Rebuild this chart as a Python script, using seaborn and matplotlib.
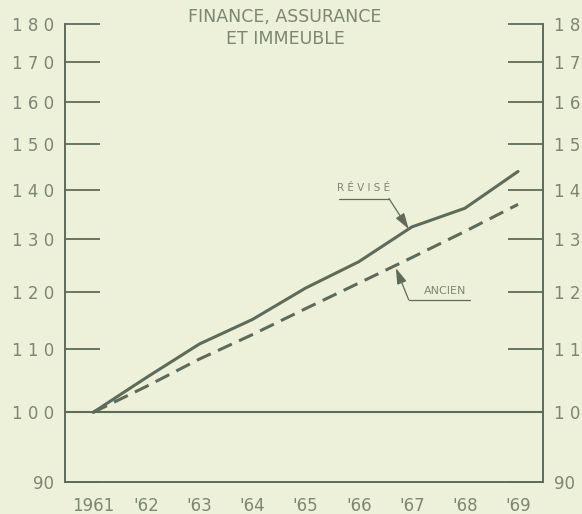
import numpy as np
import pandas as pd
import seaborn as sns
import matplotlib
matplotlib.use("Agg")
import matplotlib.pyplot as plt
from matplotlib.ticker import FixedLocator, NullFormatter, NullLocator

years = [1961, 1962, 1963, 1964, 1965, 1966, 1967, 1968, 1969]
revise = [100, 105.4, 110.9, 115.1, 120.7, 125.6, 132.4, 136.2, 144.0]
ancien = [100, 104.0, 108.4, 112.5, 117.0, 121.6, 126.4, 131.5, 137.0]
year_labels = ["1961", "'62", "'63", "'64", "'65", "'66", "'67", "'68", "'69"]
y_ticks = [90, 100, 110, 120, 130, 140, 150, 160, 170, 180]
y_labels = ["90", "1 0 0", "1 1 0", "1 2 0", "1 3 0", "1 4 0", "1 5 0", "1 6 0", "1 7 0", "1 8 0"]
title = "FINANCE, ASSURANCE\nET IMMEUBLE"

BG = "#EDF1DA"
INK = "#5F6B58"
TXT = "#7C8672"

sns.set_theme(style="white")
plt.rcParams['font.family'] = ['DejaVu Sans']

df = pd.DataFrame({
    "year": years * 2,
    "value": revise + ancien,
    "serie": ["RÉVISÉ"] * len(years) + ["ANCIEN"] * len(years),
})

fig = plt.figure(figsize=(5.82, 5.14), dpi=100, facecolor=BG)
ax = fig.add_axes([65 / 582, 1 - 482 / 514, (543 - 65) / 582, (482 - 24) / 514])
ax.set_facecolor(BG)

sns.lineplot(data=df, x="year", y="value", style="serie", hue="serie",
             palette={"RÉVISÉ": INK, "ANCIEN": INK},
             dashes={"RÉVISÉ": "", "ANCIEN": (5, 2.6)},
             linewidth=2.2, legend=False, ax=ax)

ax.set_yscale("log")
ax.set_ylim(90, 180)
ax.set_xlim(1960.47, 1969.47)
ax.axhline(100, color=INK, lw=1.5, zorder=1)

for s in ["left", "right", "bottom"]:
    ax.spines[s].set_color(INK)
    ax.spines[s].set_linewidth(1.4)
ax.spines["top"].set_visible(False)

ax.yaxis.set_major_locator(FixedLocator(y_ticks))
ax.yaxis.set_minor_locator(NullLocator())
ax.set_yticklabels(y_labels)
ax.yaxis.set_minor_formatter(NullFormatter())
ax.tick_params(axis="y", which="major", direction="in", length=25, width=1.3,
               color=INK, labelcolor=TXT, labelsize=12, left=True, right=True,
               labelleft=True, labelright=True, pad=8)

ax.set_xticks(years)
ax.set_xticklabels(year_labels)
ax.tick_params(axis="x", which="major", length=0, labelcolor=TXT, labelsize=12, pad=11)
ax.set_xticks([y + 0.5 for y in years[:-1]], minor=True)
ax.tick_params(axis="x", which="minor", direction="in", length=24, width=1.3, color=INK)

ax.set_xlabel("")
ax.set_ylabel("")

fig.text(285 / 582, 1 - 8 / 514, title, ha="center", va="top", color=TXT,
         fontsize=12.5, linespacing=1.25)

ax.plot([1965.62, 1966.57], [138.2, 138.2], color=INK, lw=0.9)
ax.annotate("", xy=(1966.94, 132.0), xytext=(1966.57, 138.2),
            arrowprops=dict(arrowstyle="-|>,head_length=0.8,head_width=0.25",
                            color=INK, lw=0.9, shrinkA=0, shrinkB=0))
ax.text(1966.1, 139.3, "R É V I S É", ha="center", va="bottom", color=TXT, fontsize=7.5)

ax.plot([1966.94, 1968.1], [118.6, 118.6], color=INK, lw=0.9)
ax.annotate("", xy=(1966.70, 124.4), xytext=(1966.94, 118.6),
            arrowprops=dict(arrowstyle="-|>,head_length=0.8,head_width=0.25",
                            color=INK, lw=0.9, shrinkA=0, shrinkB=0))
ax.text(1967.62, 119.3, "ANCIEN", ha="center", va="bottom", color=TXT, fontsize=8)

fig.savefig("out.png", dpi=100, facecolor=BG)
